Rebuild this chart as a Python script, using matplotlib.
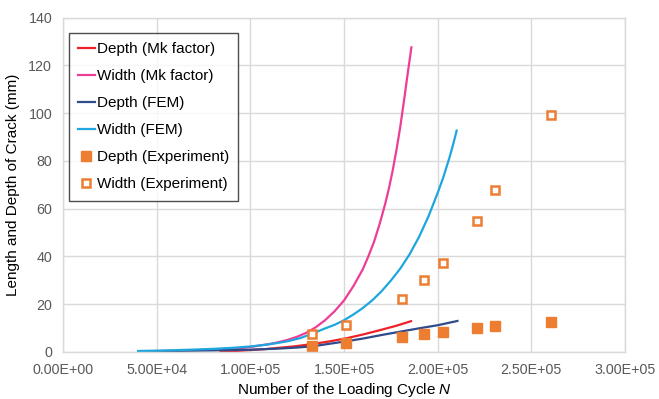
import numpy as np
import matplotlib
matplotlib.use("Agg")
import matplotlib.pyplot as plt
from matplotlib.ticker import FuncFormatter, MultipleLocator

plt.rcParams['font.family'] = ['Liberation Sans', 'DejaVu Sans']
plt.rcParams['mathtext.fontset'] = 'custom'
plt.rcParams['mathtext.rm'] = 'Liberation Sans'
plt.rcParams['mathtext.it'] = 'Liberation Sans:italic'

# Depth (Mk factor)
depth_mk_n = [84000, 92000, 100000, 108000, 116000, 124000, 133000, 142000,
              151000, 160000, 169000, 178000, 185800]
depth_mk_v = [0.0, 0.3, 0.7, 1.1, 1.7, 2.3, 3.2, 4.3, 5.6, 7.2, 9.0, 10.9, 12.8]

# Width (Mk factor)
width_mk_n = [85000, 90000, 95000, 100000, 105000, 110000, 115000, 120000,
              125000, 130000, 135000, 140000, 145000, 150000, 155000, 160000,
              163000, 166000, 169000, 172000, 174000, 176000, 178000, 180000,
              182000, 184000, 186000]
width_mk_v = [0.8, 1.1, 1.5, 2.0, 2.6, 3.2, 4.0, 5.0, 6.3, 8.0, 10.3, 13.3,
              17.0, 21.5, 27.5, 34.5, 40, 46, 53.5, 62, 68.5, 76, 84.5, 94,
              105, 116.5, 127.6]

# Depth (FEM)
depth_fem_n = [40000, 60000, 80000, 100000, 115000, 125000, 133600, 142000,
               151400, 160000, 170000, 180000, 190000, 200000, 210600]
depth_fem_v = [0.2, 0.35, 0.55, 0.85, 1.3, 1.75, 2.3, 3.3, 4.4, 5.5, 7.0,
               8.4, 9.8, 11.1, 12.9]

# Width (FEM)
width_fem_n = [40000, 50000, 60000, 70000, 80000, 90000, 100000, 110000,
               120000, 127000, 134000, 140000, 145000, 150000, 155000, 160000,
               165000, 170000, 175000, 180000, 185000, 190000, 195000, 200000,
               203000, 206000, 208000, 210200]
width_fem_v = [0.3, 0.45, 0.65, 0.9, 1.2, 1.6, 2.2, 3.1, 4.4, 5.8, 7.9, 9.8,
               11.3, 13.2, 15.6, 18.3, 21.5, 25.3, 29.8, 34.8, 40.8, 48, 56.5,
               66.5, 73, 80.5, 86, 92.7]

# Experiment
exp_n = [133000, 151000, 180800, 192900, 202900, 220900, 230900, 260800]
exp_depth = [2.5, 3.8, 6.3, 7.4, 8.3, 10.1, 10.8, 12.6]
exp_width = [7.5, 11.2, 22.2, 30.1, 37.2, 54.9, 68.0, 99.4]

ORANGE = '#ED7D31'

fig = plt.figure(figsize=(6.59, 3.99), dpi=100)
ax = fig.add_axes([0.0961, 0.1185, 0.8519, 0.8369])

ax.plot(depth_mk_n, depth_mk_v, color='#EE2128', lw=1.6, label='Depth (Mk factor)')
ax.plot(width_mk_n, width_mk_v, color='#EE3D96', lw=1.6, label='Width (Mk factor)')
ax.plot(depth_fem_n, depth_fem_v, color='#2F4B8A', lw=1.6, label='Depth (FEM)')
ax.plot(width_fem_n, width_fem_v, color='#1EA6DE', lw=1.6, label='Width (FEM)')
ax.plot(exp_n, exp_depth, ls='none', marker='s', ms=6.5, color=ORANGE,
        mec=ORANGE, label='Depth (Experiment)')
ax.plot(exp_n, exp_width, ls='none', marker='s', ms=6.2, mfc='white',
        mec=ORANGE, mew=1.8, label='Width (Experiment)')

ax.set_xlim(0, 3.0e5)
ax.set_ylim(0, 140)
ax.xaxis.set_major_locator(MultipleLocator(5.0e4))
ax.yaxis.set_major_locator(MultipleLocator(20))
ax.xaxis.set_major_formatter(FuncFormatter(lambda v, p: f"{v:.2E}"))
ax.grid(True, color='#D9D9D9', lw=1.0)
ax.set_axisbelow(True)
for s in ax.spines.values():
    s.set_color('#D9D9D9')
    s.set_linewidth(1.0)
ax.tick_params(length=0, labelsize=10.3, labelcolor='#595959', pad=8)

ax.set_xlabel('Number of the Loading Cycle $\\it{N}$', fontsize=11, labelpad=3)
ax.set_ylabel('Length and Depth of Crack (mm)', fontsize=11, labelpad=6)

leg = ax.legend(loc='upper left', bbox_to_anchor=(0.0096, 0.9536), borderaxespad=0,
                fontsize=11, frameon=True, fancybox=False, handlelength=1.1,
                handletextpad=0.15, labelspacing=0.85, borderpad=0.6)
leg.get_frame().set_edgecolor('#202020')
leg.get_frame().set_linewidth(1.0)

fig.savefig('out.png', dpi=100)
